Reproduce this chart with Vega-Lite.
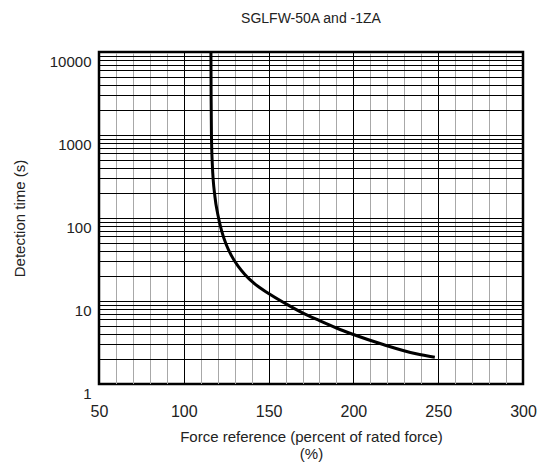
{
  "$schema": "https://vega.github.io/schema/vega-lite/v6.json",
  "width": 424,
  "height": 332,
  "autosize": "none",
  "padding": {"left": 99, "top": 52, "right": 14, "bottom": 88},
  "background": "white",
  "view": {"stroke": "black", "strokeWidth": 2.5},
  "title": {
    "text": "SGLFW-50A and -1ZA",
    "font": "Liberation Sans",
    "fontSize": 14,
    "fontWeight": "normal",
    "color": "#222",
    "offset": 20,
    "anchor": "middle"
  },
  "data": {
    "values": [
      {"force": 116, "time": 10000},
      {"force": 116.1, "time": 3000},
      {"force": 116.3, "time": 1000},
      {"force": 116.8, "time": 450},
      {"force": 118.4, "time": 178},
      {"force": 120, "time": 112},
      {"force": 122.3, "time": 70},
      {"force": 125, "time": 48},
      {"force": 128, "time": 35.5},
      {"force": 132, "time": 26.3},
      {"force": 136, "time": 20.9},
      {"force": 141, "time": 16.6},
      {"force": 150, "time": 12.3},
      {"force": 160, "time": 9.3},
      {"force": 170, "time": 7.2},
      {"force": 180, "time": 5.8},
      {"force": 190, "time": 4.73},
      {"force": 200, "time": 3.95},
      {"force": 218, "time": 2.97},
      {"force": 237, "time": 2.31},
      {"force": 248, "time": 2.1}
    ]
  },
  "mark": {"type": "line", "color": "black", "strokeWidth": 3, "interpolate": "monotone"},
  "encoding": {
    "x": {
      "field": "force",
      "type": "quantitative",
      "scale": {"domain": [50, 300], "nice": false, "zero": false},
      "axis": {
        "values": [50,60,70,80,90,100,110,120,130,140,150,160,170,180,190,200,210,220,230,240,250,260,270,280,290,300],
        "labelExpr": "datum.value % 50 === 0 ? format(datum.value, 'd') : ''",
        "grid": true,
        "gridColor": {"condition": {"test": "datum.value % 50 === 0", "value": "black"}, "value": "#a8a8a8"},
        "gridWidth": 1,
        "gridOpacity": 1,
        "ticks": false,
        "domain": false,
        "labelFont": "Liberation Sans",
        "labelFontSize": 16,
        "labelColor": "#222",
        "labelPadding": 19,
        "labelFlush": false,
        "title": ["Force reference (percent of rated force)", "(%)"],
        "titleFont": "Liberation Sans",
        "titleFontSize": 15,
        "titleFontWeight": "normal",
        "titleColor": "#222",
        "titlePadding": 10,
        "titleLineHeight": 17
      }
    },
    "y": {
      "field": "time",
      "type": "quantitative",
      "scale": {"type": "log", "domain": [1, 10000], "nice": false},
      "axis": {
        "values": [1,2,3,4,5,6,7,8,9,10,20,30,40,50,60,70,80,90,100,200,300,400,500,600,700,800,900,1000,2000,3000,4000,5000,6000,7000,8000,9000,10000],
        "labelExpr": "indexof([1,10,100,1000,10000], datum.value) >= 0 ? format(datum.value, 'd') : ''",
        "grid": true,
        "gridColor": "black",
        "gridWidth": 1,
        "gridOpacity": 1,
        "ticks": false,
        "domain": false,
        "labelFont": "Liberation Sans",
        "labelFontSize": 15,
        "labelColor": "#222",
        "labelPadding": 8,
        "labelOffset": 9,
        "labelFlush": false,
        "labelOverlap": false,
        "title": "Detection time (s)",
        "titleFont": "Liberation Sans",
        "titleFontSize": 15,
        "titleFontWeight": "normal",
        "titleColor": "#222",
        "titlePadding": 22
      }
    }
  }
}
